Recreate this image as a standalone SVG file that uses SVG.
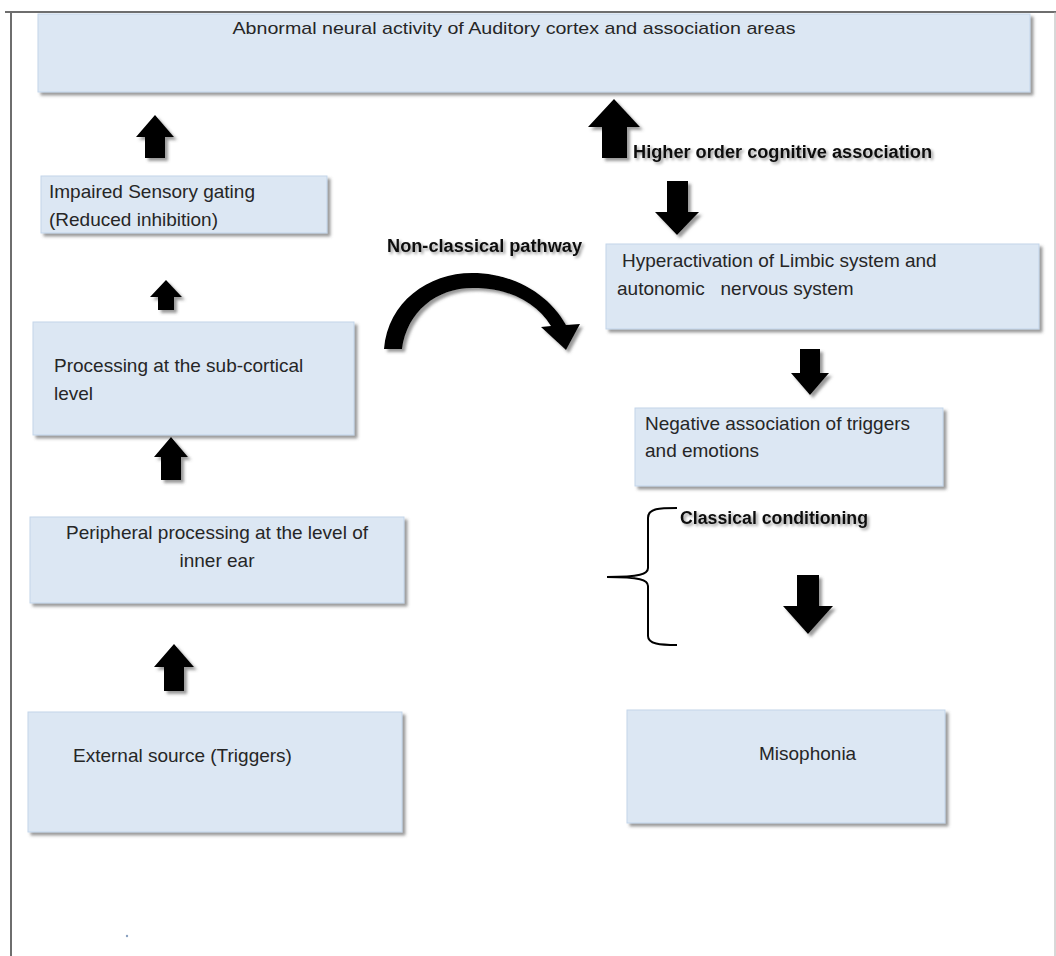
<svg xmlns="http://www.w3.org/2000/svg" width="1056" height="956" viewBox="0 0 1056 956">
<defs>
<filter id="sh" x="-10%" y="-10%" width="130%" height="140%">
<feDropShadow dx="3" dy="3" stdDeviation="1.5" flood-color="#555" flood-opacity="0.6"/>
</filter>
<filter id="tsh" x="-10%" y="-30%" width="130%" height="180%">
<feDropShadow dx="2" dy="2" stdDeviation="1.5" flood-color="#000" flood-opacity="0.4"/>
</filter>
</defs>
<style>
.box{fill:#dce7f3;stroke:#c3d5ea;stroke-width:1;filter:url(#sh)}
.t{font-family:"Liberation Sans",Arial,sans-serif;font-size:19px;fill:#262626}
.tt{font-family:"Liberation Sans",Arial,sans-serif;font-size:17px;fill:#262626}
.b{font-family:"Liberation Sans",Arial,sans-serif;font-size:17.5px;font-weight:bold;fill:#111;filter:url(#tsh)}
.arr{fill:#000;filter:url(#sh)}
</style>
<rect width="1056" height="956" fill="#fff"/>
<g id="frame">
<line x1="5" y1="12" x2="1056" y2="12" stroke="#6e6e6e" stroke-width="2"/>
<line x1="11" y1="12" x2="11" y2="956" stroke="#6e6e6e" stroke-width="2"/>
<line x1="1055" y1="12" x2="1055" y2="956" stroke="#b0b0b0" stroke-width="1"/>
<circle cx="127" cy="936" r="1.2" fill="#8aa0c0"/>
</g>
<g id="n-top"><rect class="box" x="38" y="14" width="992" height="78"/>
<text class="tt" x="514" y="34" text-anchor="middle" textLength="563" lengthAdjust="spacingAndGlyphs">Abnormal neural activity of Auditory cortex and association areas</text></g>
<g id="n-impaired"><rect class="box" x="41" y="176" width="286" height="57"/>
<text class="t" x="49" y="198">Impaired Sensory gating</text>
<text class="t" x="49" y="226">(Reduced inhibition)</text></g>
<g id="n-subcortical"><rect class="box" x="33" y="322" width="321" height="113"/>
<text class="t" x="54" y="372">Processing at the sub-cortical</text>
<text class="t" x="54" y="400">level</text></g>
<g id="n-peripheral"><rect class="box" x="30" y="517" width="374" height="86"/>
<text class="t" x="217" y="539" text-anchor="middle">Peripheral processing at the level of</text>
<text class="t" x="217" y="567" text-anchor="middle">inner ear</text></g>
<g id="n-external"><rect class="box" x="28" y="712" width="374" height="120"/>
<text class="t" x="73" y="762">External source (Triggers)</text></g>
<g id="n-hyper"><rect class="box" x="606" y="244" width="433" height="85"/>
<text class="t" x="622" y="267">Hyperactivation of Limbic system and</text>
<text class="t" x="617" y="295" xml:space="preserve">autonomic   nervous system</text></g>
<g id="n-negative"><rect class="box" x="635" y="408" width="308" height="78"/>
<text class="t" x="645" y="430">Negative association of triggers</text>
<text class="t" x="645" y="457">and emotions</text></g>
<g id="n-misophonia"><rect class="box" x="627" y="710" width="318" height="113"/>
<text class="t" x="759" y="760">Misophonia</text></g>
<g id="connectors">
<polygon class="arr" points="155,115 174,137 165,137 165,158 145,158 145,137 136,137"/>
<polygon class="arr" points="166,280 182,297 174,297 174,310 158,310 158,297 150,297"/>
<polygon class="arr" points="171,437 188,457 181,457 181,480 161,480 161,457 154,457"/>
<polygon class="arr" points="174,644 194,667 184,667 184,691 164,691 164,667 154,667"/>
<polygon class="arr" points="614,99 640,127 627,127 627,158 602,158 602,127 588,127"/>
<polygon class="arr" points="667,181 688,181 688,212 699,212 677,235 655,212 667,212"/>
<polygon class="arr" points="800,349 820,349 820,373 829,373 810,395 791,373 800,373"/>
<polygon class="arr" points="797,575 819,575 819,606 833,606 808,634 783,606 797,606"/>
<path class="arr" d="M384 349 C388 302 428 273 472 273 C516 273 550 296 566 325 L580 324 L566 350 L541 327 L551 326 C537 303 510 288 473 288 C436 288 407 312 402 349 Z"/>
<path d="M677 508 C660 508 648 508 648 518 L648 568 C648 574 640 577 607 577 C640 577 648 580 648 586 L648 636 C648 644 660 645 677 645" fill="none" stroke="#000" stroke-width="2"/>
<text class="b" x="633" y="158" textLength="299" lengthAdjust="spacingAndGlyphs">Higher order cognitive association</text>
<text class="b" x="387" y="252" textLength="195" lengthAdjust="spacingAndGlyphs">Non-classical pathway</text>
<text class="b" x="680" y="524" textLength="188" lengthAdjust="spacingAndGlyphs">Classical conditioning</text>
</g>
</svg>
